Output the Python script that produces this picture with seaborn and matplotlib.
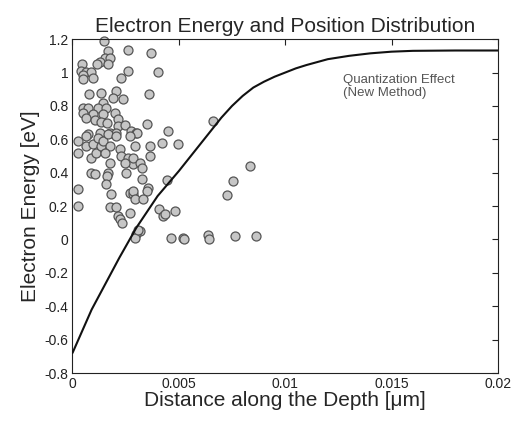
import numpy as np
import pandas as pd
import matplotlib
matplotlib.use("Agg")
import matplotlib.pyplot as plt
import seaborn as sns

# scatter data (distance [um], energy [eV])
dist = [0.0015, 0.00167, 0.0026, 0.00151, 0.00175, 0.00128, 0.00117, 0.00167, 0.00045,
        0.00041, 0.00065, 0.00088, 0.0005, 0.00096, 0.0005, 0.0026, 0.0023, 0.00078,
        0.00133, 0.00206, 0.0019, 0.00237, 0.0005, 0.00073, 0.00143, 0.0012, 0.00159,
        0.0005, 0.00096, 0.00065, 0.00104, 0.00143, 0.00198, 0.00135, 0.00164, 0.00214,
        0.00214, 0.00245, 0.00276, 0.00073, 0.00128, 0.00175, 0.00206, 0.003,
        0.00368, 0.004, 0.0036, 0.00349, 0.0045, 0.00305,
        0.00026, 0.00026, 0.00065, 0.00065, 0.00096, 0.00088, 0.0012, 0.00112, 0.00135,
        0.00143, 0.00167, 0.00175, 0.00151, 0.00206, 0.00222, 0.0023, 0.0026, 0.00269,
        0.00284, 0.00245, 0.00175, 0.00167, 0.00164, 0.00159, 0.00088, 0.00104, 0.00253,
        0.00026, 0.00026, 0.00182, 0.00175, 0.00206, 0.00214, 0.00222, 0.00233, 0.00269,
        0.00269, 0.00284,
        0.00364, 0.00364, 0.00419, 0.00494, 0.00294, 0.00286, 0.00317, 0.00325, 0.00325,
        0.00356, 0.00349, 0.00286, 0.00294, 0.00333, 0.00446, 0.00408, 0.00427, 0.00435,
        0.00482, 0.00317, 0.003, 0.00294, 0.00462, 0.00521, 0.0031,
        0.00662, 0.00834, 0.00753, 0.00725, 0.00524, 0.00636, 0.00642, 0.00764, 0.00862]
energy = [1.19, 1.13, 1.135, 1.09, 1.085, 1.065, 1.05, 1.05, 1.05,
          1.01, 1.005, 1.005, 0.985, 0.965, 0.96, 1.01, 0.97, 0.87,
          0.875, 0.89, 0.85, 0.84, 0.79, 0.785, 0.815, 0.79, 0.79,
          0.76, 0.75, 0.725, 0.715, 0.75, 0.76, 0.705, 0.70, 0.72,
          0.68, 0.685, 0.65, 0.63, 0.64, 0.64, 0.64, 0.64,
          1.12, 1.005, 0.87, 0.69, 0.65, 0.64,
          0.59, 0.52, 0.62, 0.56, 0.57, 0.49, 0.61, 0.52, 0.56,
          0.59, 0.63, 0.56, 0.52, 0.62, 0.54, 0.50, 0.49, 0.62,
          0.45, 0.46, 0.46, 0.40, 0.38, 0.33, 0.40, 0.39, 0.40,
          0.30, 0.20, 0.27, 0.195, 0.195, 0.14, 0.12, 0.10, 0.16,
          0.28, 0.27,
          0.56, 0.50, 0.58, 0.57, 0.56, 0.49, 0.46, 0.43, 0.36,
          0.31, 0.29, 0.29, 0.24, 0.24, 0.355, 0.18, 0.14, 0.15,
          0.17, 0.05, 0.03, 0.01, 0.01, 0.01, 0.055,
          0.71, 0.44, 0.35, 0.265, 0.005, 0.025, 0.005, 0.02, 0.02]

# curve data
curve_x = [0, 0.0009, 0.0022, 0.003, 0.004, 0.005, 0.0055, 0.006, 0.0065, 0.007, 0.0075,
           0.008, 0.0085, 0.009, 0.0095, 0.010, 0.0105, 0.011, 0.012, 0.013, 0.014,
           0.015, 0.016, 0.018, 0.02]
curve_y = [-0.68, -0.42, -0.11, 0.07, 0.26, 0.41, 0.49, 0.57, 0.65, 0.73, 0.80,
           0.86, 0.91, 0.945, 0.975, 1.0, 1.025, 1.045, 1.08, 1.10, 1.115,
           1.125, 1.13, 1.132, 1.132]

x_ticks = [0, 0.005, 0.01, 0.015, 0.02]
x_tick_labels = ["0", "0.005", "0.01", "0.015", "0.02"]
y_ticks = [-0.8, -0.6, -0.4, -0.2, 0, 0.2, 0.4, 0.6, 0.8, 1, 1.2]
y_tick_labels = ["-0.8", "-0.6", "-0.4", "-0.2", "0", "0.2", "0.4", "0.6", "0.8", "1", "1.2"]

sns.set_theme(style="white")
plt.rcParams['font.family'] = ['Liberation Sans', 'DejaVu Sans']

fig = plt.figure(figsize=(5.16, 4.21), dpi=100)
ax = fig.add_axes([0.1405, 0.114, 0.8245, 0.793])

pts = pd.DataFrame({"dist": dist, "energy": energy})
cur = pd.DataFrame({"x": curve_x, "y": curve_y})

sns.lineplot(data=cur, x="x", y="y", ax=ax, color="#111111", linewidth=1.5,
             sort=False, estimator=None, zorder=3)
sns.scatterplot(data=pts, x="dist", y="energy", ax=ax, s=42, color="#c6c6c6",
                edgecolor="#555555", linewidth=0.9, zorder=2, clip_on=False)

ax.set_xlim(0, 0.02)
ax.set_ylim(-0.8, 1.2)
ax.set_xticks(x_ticks)
ax.set_xticklabels(x_tick_labels)
ax.set_yticks(y_ticks)
ax.set_yticklabels(y_tick_labels)
ax.tick_params(direction="in", length=4, width=0.8, top=True, right=True,
               labelsize=10, colors="#222222", pad=3)
for sp in ax.spines.values():
    sp.set_color("#222222")
    sp.set_linewidth(0.8)

ax.set_title("Electron Energy and Position Distribution", fontsize=15, pad=5)
ax.set_xlabel("Distance along the Depth [\u03bcm]", fontsize=15, labelpad=0)
ax.set_ylabel("Electron Energy [eV]", fontsize=15, labelpad=3)

ax.text(0.0127, 0.99, "Quantization Effect\n(New Method)", fontsize=9.5,
        color="#555555", va="top", ha="left", linespacing=1.1)

fig.savefig("out.png", dpi=100)
